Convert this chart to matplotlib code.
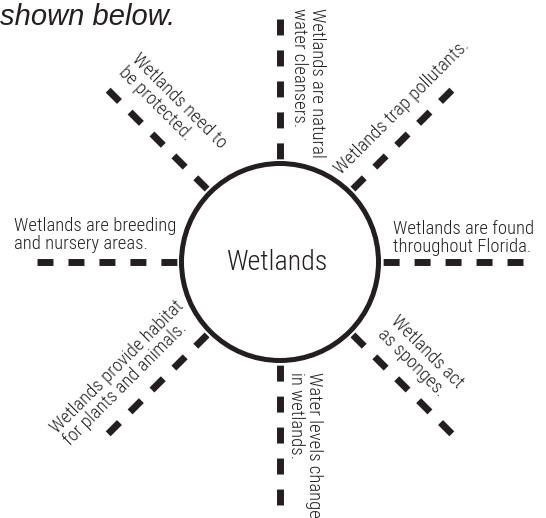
import os
import numpy as np
import matplotlib
matplotlib.use("Agg")
import matplotlib.pyplot as plt
from matplotlib.patches import Circle
from matplotlib import font_manager as fm

plt.rcParams["lines.scale_dashes"] = False

# ---------------- data ----------------
title = "shown below."
hub_label = "Wetlands"
spoke_angles = [90, 45, 0, -45, -90, -135, 180, 135]
spoke_labels = [
    "Wetlands are natural\nwater cleansers.",
    "Wetlands trap pollutants.",
    "Wetlands are found\nthroughout Florida.",
    "Wetlands act\nas sponges.",
    "Water levels change\nin wetlands.",
    "Wetlands provide habitat\nfor plants and animals.",
    "Wetlands are breeding\nand nursery areas.",
    "Wetlands need to\nbe protected.",
]

# ---------------- layout ----------------
W, H = 546, 518
cx, cy, r_hub, r_out = 280, 262, 98.5, 243
label_rot = [-90, 45, 0, -45, -90, 45, 0, -45]
label_along = [254, 105, 113, 120, 110, 279, 266, 248]
label_perp = [32, 18, 28, 35, 29, 36, 31, 37]
line_step = 18
ink = "#231f20"

# pick a condensed face if one is installed
prefs = ["LiberationSansNarrow-Regular", "RobotoCondensed-Light", "RobotoCondensed-Regular",
         "NotoSans-CondensedLight", "NotoSans-Condensed", "OpenSans-CondensedLight",
         "OpenSans_Condensed", "DejaVuSansCondensed.ttf", "LiberationSans-Regular"]
files = [f.fname for f in fm.fontManager.ttflist]
narrow_fp = None
for p in prefs:
    hits = [f for f in files if p in os.path.basename(f)]
    if hits:
        narrow_fp = fm.FontProperties(fname=sorted(hits, key=len)[0])
        break
if narrow_fp is None:
    narrow_fp = fm.FontProperties(family="DejaVu Sans", stretch="condensed")

fig = plt.figure(figsize=(W / 100, H / 100), dpi=100)
ax = fig.add_axes([0, 0, 1, 1])
ax.set_xlim(0, W)
ax.set_ylim(H, 0)
ax.axis("off")

# fit font sizes to the reference text widths
renderer = fig.canvas.get_renderer()
def fit(sample, target_px, base=14):
    t = ax.text(0, 0, sample, fontproperties=narrow_fp, fontsize=base)
    w = t.get_window_extent(renderer).width
    t.remove()
    return base * target_px / w

label_fs = fit("Wetlands are breeding", 161)
hub_fs = fit(hub_label, 101, 21)

for ang in spoke_angles:
    ux, uy = np.cos(np.radians(ang)), -np.sin(np.radians(ang))
    ax.plot([cx + r_out * ux, cx + r_hub * ux], [cy + r_out * uy, cy + r_hub * uy],
            color=ink, lw=5, dashes=(11.5, 10.8), dash_capstyle="butt", zorder=2)

ax.add_patch(Circle((cx, cy), r_hub, facecolor="white", edgecolor=ink, lw=3.6, zorder=3))
ax.text(cx - 3, cy + 1, hub_label, fontproperties=narrow_fp, fontsize=hub_fs, color=ink,
        ha="center", va="center", zorder=4)

for ang, text, rot, a, p in zip(spoke_angles, spoke_labels, label_rot, label_along, label_perp):
    ux, uy = np.cos(np.radians(ang)), -np.sin(np.radians(ang))
    upx, upy = -np.sin(np.radians(rot)), -np.cos(np.radians(rot))
    for k, line in enumerate(text.split("\n")):
        d = p - k * line_step
        x = cx + a * ux + d * upx
        y = cy + a * uy + d * upy
        ax.text(x, y, line, rotation=rot, rotation_mode="anchor", ha="left", va="baseline",
                fontproperties=narrow_fp, fontsize=label_fs, color=ink, zorder=4)

ax.text(0, 25, title, fontsize=21, style="italic", family=["Liberation Sans", "DejaVu Sans"],
        color=ink, ha="left", va="baseline")

fig.savefig("out.png", dpi=100)
